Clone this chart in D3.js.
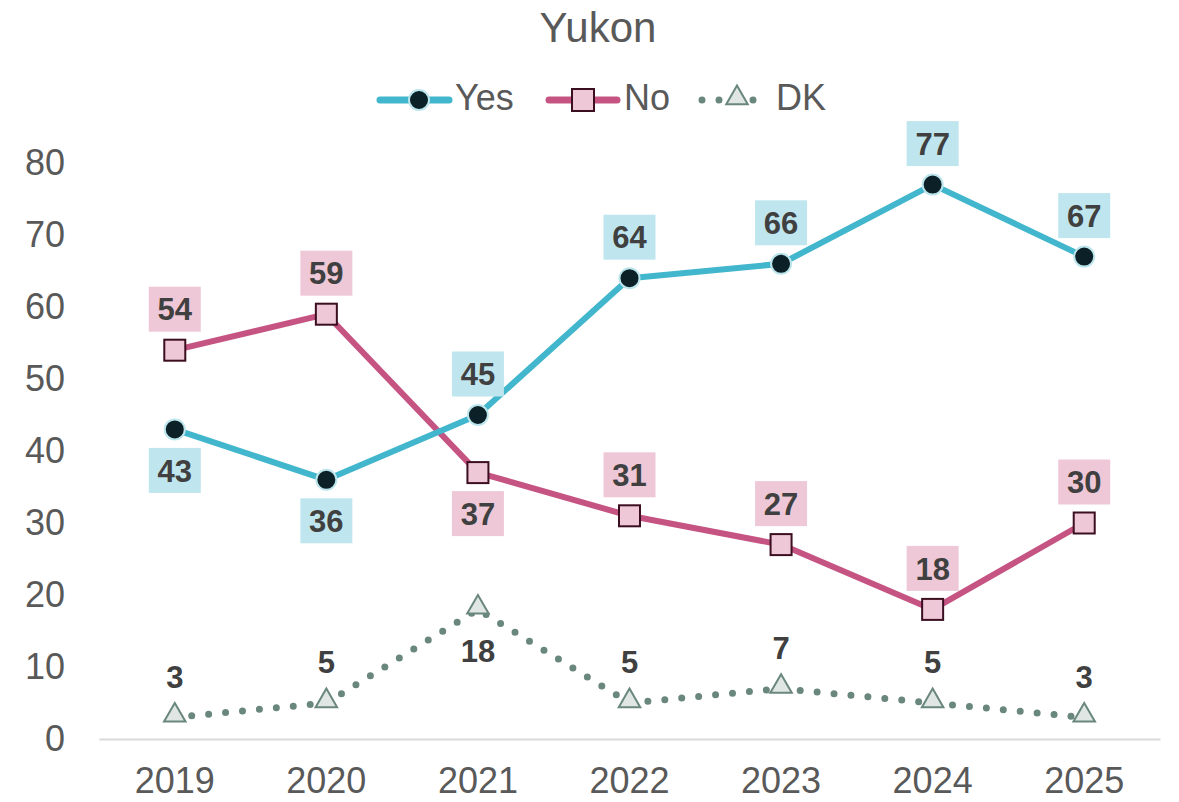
<!DOCTYPE html>
<html>
<head>
<meta charset="utf-8">
<script src="https://cdn.jsdelivr.net/npm/d3@7"></script>
<style>
  body { margin: 0; background: #fff; }
  svg { font-family: "Liberation Sans", Arial, sans-serif; }
</style>
</head>
<body>
<svg id="chart" width="1179" height="802"></svg>
<script>
// Chart data.
var years = ['2019', '2020', '2021', '2022', '2023', '2024', '2025'];
var yesValues = [43, 36, 45, 64, 66, 77, 67];
var noValues = [54, 59, 37, 31, 27, 18, 30];
var dkValues = [3, 5, 18, 5, 7, 5, 3];
// Label placement: -1 above, 1 below.
var yesLabelSide = [1, 1, -1, -1, -1, -1, -1];
var noLabelSide = [-1, -1, 1, -1, -1, -1, -1];
var dkLabelSide = [-1, -1, 1, -1, -1, -1, -1];
var yTicks = [0, 10, 20, 30, 40, 50, 60, 70, 80];

var margin = {top: 163, right: 19, bottom: 63, left: 99};
var width = 1179, height = 802;
var fontFamily = '"Liberation Sans", Arial, sans-serif';

var svg = d3.select('#chart');

var x = d3.scaleBand()
    .domain(years)
    .range([margin.left, width - margin.right]);

var y = d3.scaleLinear()
    .domain([0, 80])
    .range([height - margin.bottom, margin.top]);

var cx = function(d, i) { return x(years[i]) + x.bandwidth() / 2; };

// Title.
svg.append('text')
    .attr('x', 598)
    .attr('y', 42)
    .attr('text-anchor', 'middle')
    .style('font-size', '42px')
    .style('fill', '#595959')
    .text('Yukon');

// Y axis labels (no axis line).
var yAxis = svg.append('g')
    .attr('transform', 'translate(' + (margin.left - 34) + ',0)')
    .call(d3.axisLeft(y).tickValues(yTicks).tickSize(0).tickPadding(0));
yAxis.select('.domain').remove();
yAxis.selectAll('text')
    .style('font-size', '36px')
    .style('font-family', fontFamily)
    .style('fill', '#595959');

// X axis.
var xAxis = svg.append('g')
    .attr('transform', 'translate(0,' + y(0) + ')')
    .call(d3.axisBottom(x).tickSize(0).tickPadding(28));
xAxis.select('.domain')
    .style('stroke', '#d9d9d9')
    .style('stroke-width', 2);
xAxis.selectAll('text')
    .style('font-size', '36px')
    .style('font-family', fontFamily)
    .style('fill', '#595959');

var line = d3.line()
    .x(cx)
    .y(function(d) { return y(d); });

var colors = {
  yes: '#41b6cc', yesDot: '#0b2027', yesRing: '#bde5ec', yesBox: '#bfe6ee',
  no: '#c65483', noFill: '#efc8d7', noStroke: '#3b0f20', noBox: '#efc8d7',
  dk: '#6a877d', dkFill: '#dfe6e3'
};

// DK line (dotted).
svg.append('path')
    .datum(dkValues)
    .attr('d', line)
    .style('fill', 'none')
    .style('stroke', colors.dk)
    .style('stroke-width', 7)
    .style('stroke-linecap', 'round')
    .style('stroke-dasharray', '0 17');

// No line.
svg.append('path')
    .datum(noValues)
    .attr('d', line)
    .style('fill', 'none')
    .style('stroke', colors.no)
    .style('stroke-width', 6)
    .style('stroke-linejoin', 'round');

// Yes line.
svg.append('path')
    .datum(yesValues)
    .attr('d', line)
    .style('fill', 'none')
    .style('stroke', colors.yes)
    .style('stroke-width', 6)
    .style('stroke-linejoin', 'round');

var triangle = d3.symbol().type(d3.symbolTriangle).size(200);

function drawTriangle(sel) {
  sel.attr('d', triangle)
      .style('fill', colors.dkFill)
      .style('stroke', colors.dk)
      .style('stroke-width', 2);
}

// DK markers.
svg.selectAll('.dk-mark')
    .data(dkValues)
  .enter().append('path')
    .attr('class', 'dk-mark')
    .attr('transform', function(d, i) { return 'translate(' + cx(d, i) + ',' + (y(d) - 2) + ')'; })
    .call(drawTriangle);

// No markers.
svg.selectAll('.no-mark')
    .data(noValues)
  .enter().append('rect')
    .attr('class', 'no-mark')
    .attr('x', function(d, i) { return cx(d, i) - 10.5; })
    .attr('y', function(d) { return y(d) - 10.5; })
    .attr('width', 21)
    .attr('height', 21)
    .style('fill', colors.noFill)
    .style('stroke', colors.noStroke)
    .style('stroke-width', 2);

// Yes markers.
svg.selectAll('.yes-mark')
    .data(yesValues)
  .enter().append('circle')
    .attr('class', 'yes-mark')
    .attr('cx', cx)
    .attr('cy', function(d) { return y(d); })
    .attr('r', 10)
    .style('fill', colors.yesDot)
    .style('stroke', colors.yesRing)
    .style('stroke-width', 2);

// Data labels.
function addLabels(values, sides, boxColor, cls) {
  var g = svg.selectAll('.' + cls)
      .data(values)
    .enter().append('g')
      .attr('class', cls)
      .attr('transform', function(d, i) {
        return 'translate(' + cx(d, i) + ',' + (y(d) + sides[i] * 41) + ')';
      });
  if (boxColor) {
    g.append('rect')
        .attr('x', -26)
        .attr('y', -22.5)
        .attr('width', 52)
        .attr('height', 45)
        .style('fill', boxColor);
  }
  g.append('text')
      .attr('text-anchor', 'middle')
      .attr('dy', '0.36em')
      .style('font-size', '31px')
      .style('font-weight', 'bold')
      .style('fill', '#404040')
      .text(function(d) { return d; });
}

addLabels(dkValues, dkLabelSide, null, 'dk-label');
addLabels(noValues, noLabelSide, colors.noBox, 'no-label');
addLabels(yesValues, yesLabelSide, colors.yesBox, 'yes-label');

// Legend.
var legend = svg.append('g').attr('class', 'legend');
var ly = 100;

legend.append('line')
    .attr('x1', 380).attr('x2', 449).attr('y1', ly).attr('y2', ly)
    .style('stroke', colors.yes).style('stroke-width', 7).style('stroke-linecap', 'round');
legend.append('circle')
    .attr('cx', 419).attr('cy', ly).attr('r', 10)
    .style('fill', colors.yesDot).style('stroke', colors.yesRing).style('stroke-width', 2);
legend.append('text')
    .attr('x', 455).attr('y', 110)
    .style('font-size', '36px').style('fill', '#595959').text('Yes');

legend.append('line')
    .attr('x1', 549).attr('x2', 617).attr('y1', ly).attr('y2', ly)
    .style('stroke', colors.no).style('stroke-width', 7).style('stroke-linecap', 'round');
legend.append('rect')
    .attr('x', 572).attr('y', ly - 11).attr('width', 22).attr('height', 22)
    .style('fill', colors.noFill).style('stroke', colors.noStroke).style('stroke-width', 2);
legend.append('text')
    .attr('x', 624).attr('y', 110)
    .style('font-size', '36px').style('fill', '#595959').text('No');

legend.append('line')
    .attr('x1', 702).attr('x2', 756).attr('y1', ly).attr('y2', ly)
    .style('stroke', colors.dk).style('stroke-width', 7).style('stroke-linecap', 'round')
    .style('stroke-dasharray', '0 17');
legend.append('path')
    .attr('transform', 'translate(737,' + (ly - 2) + ')')
    .call(drawTriangle);
legend.append('text')
    .attr('x', 776).attr('y', 110)
    .style('font-size', '36px').style('fill', '#595959').text('DK');
</script>
</body>
</html>
